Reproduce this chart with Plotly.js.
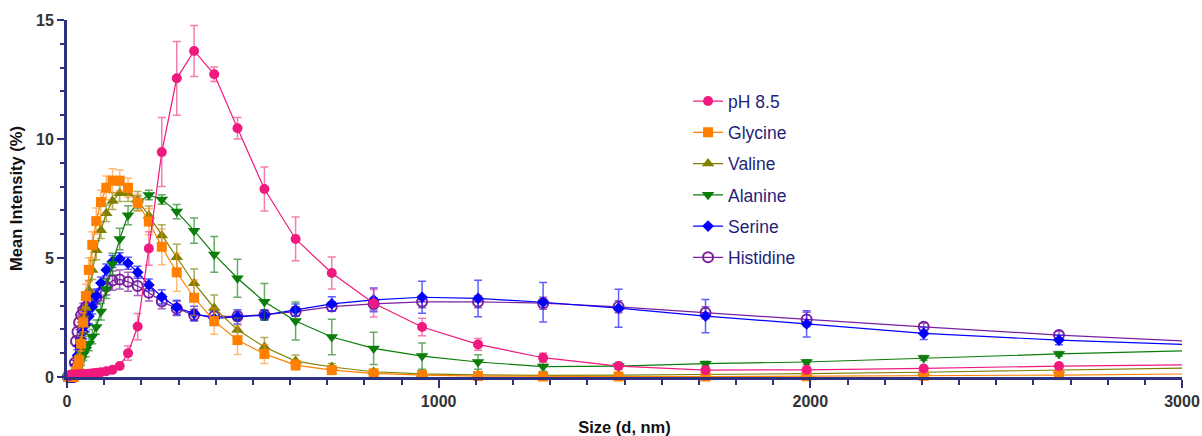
<!DOCTYPE html>
<html>
<head>
<meta charset="utf-8">
<script src="https://cdn.plot.ly/plotly-3.0.1.min.js"></script>
<style>html,body{margin:0;padding:0;background:#fff;}#chart{width:1202px;height:436px;}</style>
</head>
<body>
<div id="chart"></div>
<script>
const sizes = [3.122,3.615,4.187,4.849,5.615,6.503,7.531,8.721,10.1,11.7,13.54,15.69,18.17,21.04,24.36,28.21,32.67,37.84,43.82,50.75,58.77,68.06,78.82,91.28,105.7,122.4,141.8,164.2,190.1,220.2,255.0,295.3,342.0,396.1,458.7,531.2,615.1,712.4,825.0,955.4,1106,1281,1484,1718,1990,2305,2669,3091];

const phValues =  [0.04,0.04,0.05,0.05,0.05,0.06,0.06,0.06,0.07,0.07,0.08,0.08,0.09,0.09,0.1,0.1,0.11,0.12,0.12,0.13,0.14,0.16,0.18,0.2,0.24,0.3,0.46,1.0,2.12,5.4,9.45,12.55,13.7,12.72,10.45,7.9,5.8,4.37,3.1,2.1,1.37,0.81,0.46,0.29,0.3,0.36,0.46,0.52];
const phErr =     [0,0,0,0,0,0,0,0,0,0,0,0,0,0,0.03,0.03,0.03,0.03,0.03,0.03,0.04,0.04,0.04,0.05,0.05,0.06,0.1,0.3,0.55,0.7,1.45,1.55,1.07,0.3,0.45,0.92,0.92,0.67,0.58,0.37,0.25,0.2,0.1,0.05,0.05,0.05,0.05,0.05];

const glyValues = [0,0,0,0,0,0,0,0,0,0,0,0,0,0.1,0.25,0.4,0.7,1.4,2.3,3.4,4.5,5.55,6.55,7.35,7.95,8.25,8.25,7.95,7.32,6.53,5.47,4.4,3.33,2.35,1.55,0.97,0.5,0.29,0.15,0.08,0.04,0.02,0.02,0.02,0.03,0.05,0.08,0.14];
const glyErr =    [0,0,0,0,0,0,0,0,0,0,0,0,0,0.05,0.1,0.15,0.2,0.3,0.4,0.5,0.5,0.55,0.55,0.5,0.5,0.5,0.45,0.4,0.35,0.55,0.75,0.8,0.75,0.55,0.6,0.4,0.22,0.12,0.08,0.05,0.03,0.03,0.03,0.03,0.03,0.03,0.03,0.03];

const valValues = [0,0,0,0,0,0,0,0,0,0,0,0,0,0.05,0.2,0.45,0.9,1.5,2.2,2.9,3.65,4.5,5.33,6.17,6.88,7.39,7.72,7.72,7.44,6.78,5.95,5.03,3.94,2.9,1.98,1.26,0.67,0.42,0.22,0.13,0.09,0.07,0.08,0.1,0.14,0.2,0.28,0.4];
const valErr =    [0,0,0,0,0,0,0,0,0,0,0,0,0,0.03,0.1,0.15,0.2,0.3,0.35,0.35,0.4,0.4,0.4,0.35,0.35,0.35,0.35,0.35,0.35,0.4,0.45,0.55,0.6,0.55,0.5,0.4,0.25,0.15,0.1,0.05,0.05,0.05,0.05,0.05,0.05,0.05,0.05,0.05];

const alaValues = [0,0,0,0,0,0,0,0,0,0,0,0,0,0.05,0.2,0.35,0.55,0.75,0.95,1.15,1.4,1.7,2.1,2.75,3.7,4.75,5.8,6.8,7.3,7.65,7.46,6.95,6.15,5.15,4.15,3.16,2.35,1.68,1.2,0.88,0.63,0.44,0.46,0.56,0.63,0.8,0.97,1.13];
const alaErr =    [0,0,0,0,0,0,0,0,0,0,0,0,0,0.05,0.1,0.15,0.2,0.25,0.25,0.3,0.3,0.3,0.3,0.35,0.4,0.45,0.45,0.4,0.3,0.2,0.2,0.3,0.53,0.75,0.8,0.77,0.8,0.75,0.68,0.55,0.3,0.2,0.15,0.1,0.1,0.1,0.1,0.1];

const serValues = [0,0,0,0,0,0,0,0,0,0,0,0,0,0.1,0.5,0.9,1.3,1.6,1.9,2.2,2.55,2.95,3.4,3.95,4.5,4.85,4.97,4.78,4.4,3.87,3.37,2.92,2.67,2.46,2.53,2.6,2.82,3.07,3.24,3.35,3.3,3.14,2.89,2.56,2.23,1.83,1.55,1.32];
const serErr =    [0,0,0,0,0,0,0,0,0,0,0,0,0,0.05,0.2,0.25,0.3,0.3,0.3,0.3,0.3,0.3,0.3,0.25,0.25,0.25,0.25,0.25,0.25,0.25,0.3,0.3,0.3,0.3,0.3,0.2,0.25,0.3,0.5,0.67,0.77,0.83,0.8,0.7,0.55,0.25,0.2,0.15];

const hisValues = [0,0,0,0,0,0,0,0,0,0,0,0,0,0.6,1.5,1.9,2.3,2.6,2.8,2.95,3.05,3.2,3.35,3.55,3.8,4.05,4.1,4.0,3.82,3.54,3.17,2.88,2.6,2.55,2.55,2.62,2.75,2.96,3.07,3.16,3.16,3.1,2.95,2.7,2.42,2.11,1.76,1.45];
const hisErr =    [0,0,0,0,0,0,0,0,0,0,0,0,0,0.1,0.2,0.25,0.3,0.3,0.3,0.3,0.3,0.3,0.3,0.35,0.35,0.4,0.4,0.4,0.4,0.35,0.3,0.3,0.25,0.25,0.2,0.2,0.2,0.2,0.25,0.25,0.25,0.25,0.25,0.25,0.3,0.15,0.15,0.15];

const seriesNames = ['pH 8.5','Glycine','Valine','Alanine','Serine','Histidine'];

const FONT = 'Arial, "Liberation Sans", Helvetica, sans-serif';

function mk(name, y, err, color, errColor, symbol, size, rank, open) {
  return {
    x: sizes, y: y, name: name, type: 'scatter', mode: 'lines+markers',
    legendgroup: name, legendrank: rank,
    cliponaxis: false,
    line: {color: color, width: 1.2},
    marker: open ? {symbol: symbol, size: size, color: color, line: {color: color, width: 2}}
                 : {symbol: symbol, size: size, color: color, line: {width: 0}},
    error_y: {type: 'data', array: err, visible: true, color: errColor, thickness: 1.5, width: 4}
  };
}

const data = [
  mk(seriesNames[5], hisValues, hisErr, '#7a1fa2', 'rgba(122,31,162,0.7)', 'circle-open', 10, 6, true),
  mk(seriesNames[4], serValues, serErr, '#0000ff', 'rgba(40,40,255,0.75)', 'diamond', 9, 5, false),
  mk(seriesNames[3], alaValues, alaErr, '#0a7d0a', 'rgba(20,125,20,0.65)', 'triangle-down', 11, 4, false),
  mk(seriesNames[2], valValues, valErr, '#808000', 'rgba(128,128,0,0.65)', 'triangle-up', 11, 3, false),
  mk(seriesNames[1], glyValues, glyErr, '#ff8000', 'rgba(255,140,30,0.6)', 'square', 10, 2, false),
  mk(seriesNames[0], phValues, phErr, '#f0197d', 'rgba(240,70,140,0.7)', 'circle', 10, 1, false)
];

const axisColor = '#2e3280';

const layout = {
  width: 1202, height: 436,
  margin: {l: 67, r: 20, t: 20, b: 59},
  paper_bgcolor: '#fff', plot_bgcolor: '#fff',
  showlegend: true,
  legend: {
    x: 0.557, y: 0.823, xanchor: 'left', yanchor: 'top',
    font: {family: FONT, size: 17.5, color: '#1f1f7a'},
    tracegroupgap: 5.5, traceorder: 'grouped',
    bgcolor: 'rgba(0,0,0,0)'
  },
  xaxis: {
    range: [0, 3000], showgrid: false, zeroline: false,
    showline: true, linecolor: axisColor, linewidth: 3,
    ticks: 'outside', tickcolor: axisColor, ticklen: 8, tickwidth: 2,
    tickmode: 'linear', tick0: 0, dtick: 1000,
    minor: {ticks: 'outside', dtick: 100, ticklen: 5, tickwidth: 2, tickcolor: axisColor, showgrid: false},
    tickfont: {family: FONT, size: 16, color: '#333333', weight: 'bold'},
    title: {text: 'Size (d, nm)', font: {family: FONT, size: 16.5, color: '#111111', weight: 'bold'}, standoff: 14}
  },
  yaxis: {
    range: [0, 15], showgrid: false, zeroline: false,
    showline: true, linecolor: axisColor, linewidth: 3,
    ticks: 'outside', tickcolor: axisColor, ticklen: 7, tickwidth: 2,
    tickmode: 'linear', tick0: 0, dtick: 5,
    minor: {ticks: 'outside', dtick: 1, ticklen: 4, tickwidth: 2, tickcolor: axisColor, showgrid: false},
    tickfont: {family: FONT, size: 16, color: '#333333', weight: 'bold'},
    title: {text: 'Mean Intensity (%)', font: {family: FONT, size: 16.5, color: '#111111', weight: 'bold'}, standoff: 10}
  }
};

Plotly.newPlot('chart', data, layout, {displayModeBar: false, staticPlot: true});
</script>
</body>
</html>
